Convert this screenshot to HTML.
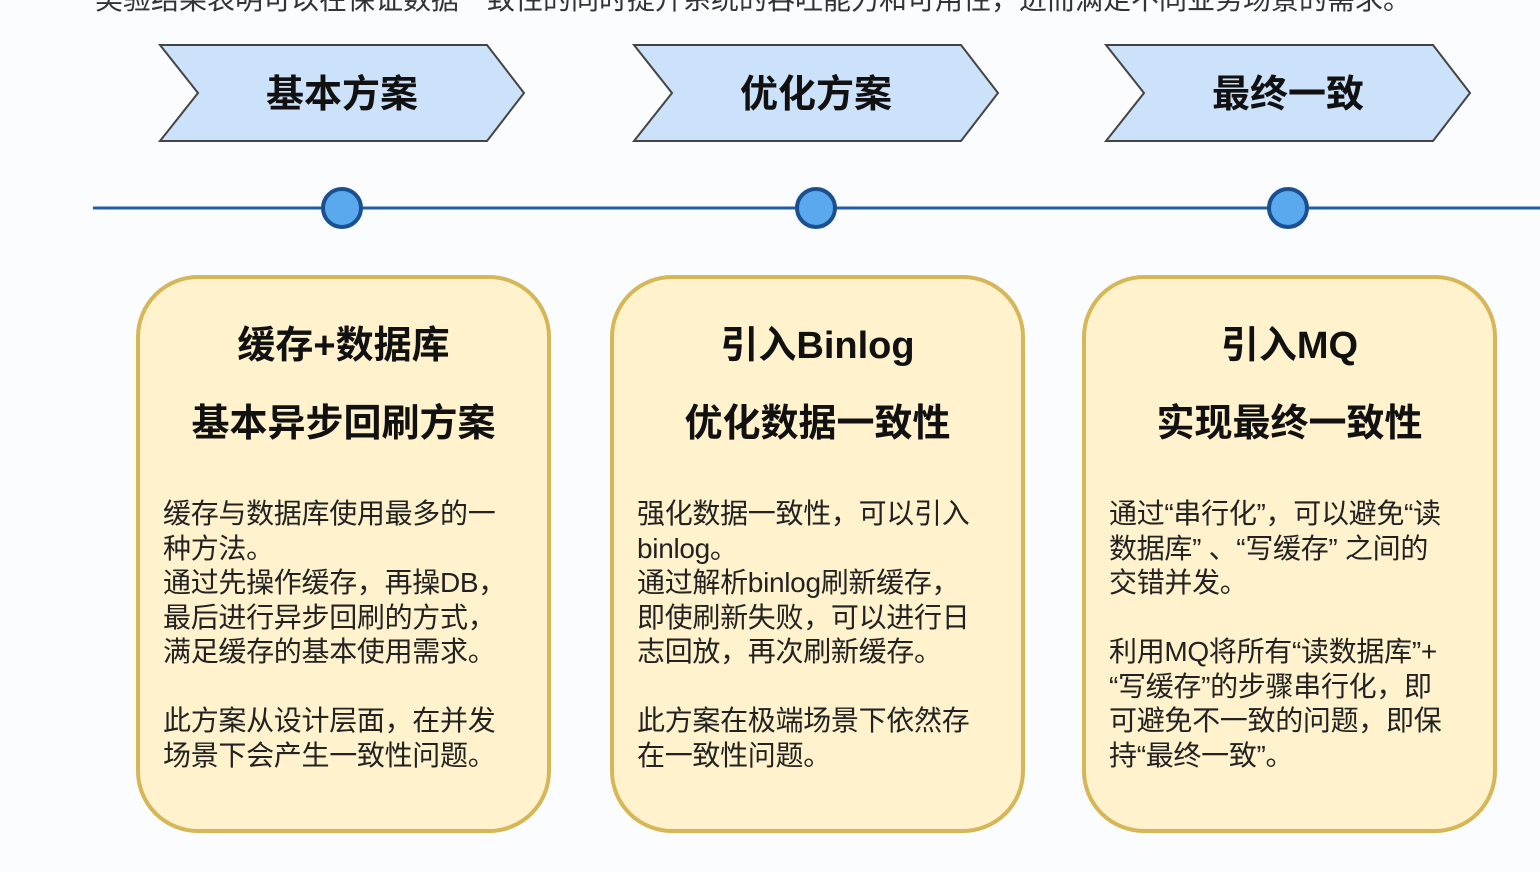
<!DOCTYPE html>
<html><head><meta charset="utf-8"><style>
body{margin:0;width:1540px;height:872px;background:#fbfcfd;position:relative;overflow:hidden;font-family:"Liberation Sans","Noto Sans CJK SC",sans-serif;}
.card{position:absolute;top:275px;width:407px;height:550px;border:4px solid #d6b656;background:#fff2cc;border-radius:62px;box-sizing:content-box;}
.t{position:absolute;left:0;width:100%;text-align:center;font-weight:bold;font-size:38px;color:#111;}
.b{position:absolute;left:23px;top:218px;font-size:28px;line-height:34.5px;color:#222;white-space:pre;letter-spacing:-0.3px;}
</style></head><body>
<div style="position:absolute;left:95px;top:-22px;font-size:28px;color:#333;white-space:nowrap;">実验结果表明可以在保证数据一致性的同时提升系统的吞吐能力和可用性，进而满足不同业务场景的需求。</div>
<svg width="1540" height="872" style="position:absolute;left:0;top:0">
<g fill="#cce1fa" stroke="#444" stroke-width="2">
<polygon points="160,45 487,45 524,93 487,141 160,141 198,93"/>
<polygon points="634,45 961,45 998,93 961,141 634,141 672,93"/>
<polygon points="1106,45 1433,45 1470,93 1433,141 1106,141 1144,93"/>
</g>
<g font-family="Liberation Sans,Noto Sans CJK SC,sans-serif" font-size="38" font-weight="bold" fill="#111" text-anchor="middle">
<text x="342" y="107">基本方案</text>
<text x="816" y="107">优化方案</text>
<text x="1288" y="107">最终一致</text>
</g>
<line x1="93" y1="208" x2="1540" y2="208" stroke="#1f5fa8" stroke-width="3"/>
<g fill="#5aa9ee" stroke="#1a4f90" stroke-width="4">
<circle cx="342" cy="208" r="19"/><circle cx="816" cy="208" r="19"/><circle cx="1288" cy="208" r="19"/>
</g>
</svg>
<div class="card" style="left:136px">
<div class="t" style="top:35px">缓存+数据库</div>
<div class="t" style="top:113px">基本异步回刷方案</div>
<div class="b">缓存与数据库使用最多的一
种方法。
通过先操作缓存，再操DB，
最后进行异步回刷的方式，
满足缓存的基本使用需求。

此方案从设计层面，在并发
场景下会产生一致性问题。</div>
</div>
<div class="card" style="left:610px">
<div class="t" style="top:35px">引入Binlog</div>
<div class="t" style="top:113px">优化数据一致性</div>
<div class="b">强化数据一致性，可以引入
binlog。
通过解析binlog刷新缓存，
即使刷新失败，可以进行日
志回放，再次刷新缓存。

此方案在极端场景下依然存
在一致性问题。</div>
</div>
<div class="card" style="left:1082px">
<div class="t" style="top:35px">引入MQ</div>
<div class="t" style="top:113px">实现最终一致性</div>
<div class="b">通过“串行化”，可以避免“读
数据库” 、“写缓存” 之间的
交错并发。

利用MQ将所有“读数据库”+
“写缓存”的步骤串行化，即
可避免不一致的问题，即保
持“最终一致”。</div>
</div>
</body></html>
